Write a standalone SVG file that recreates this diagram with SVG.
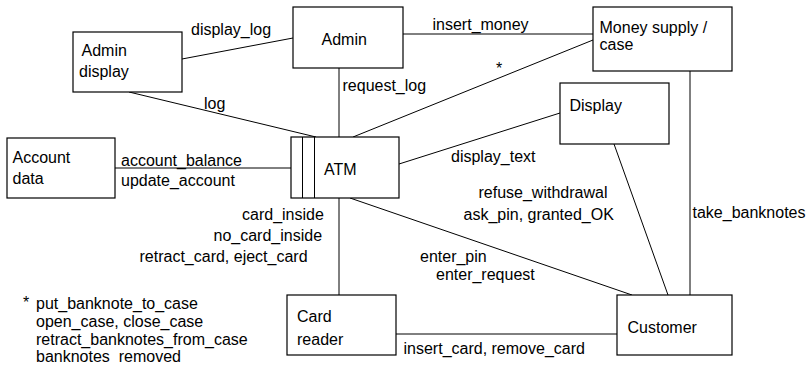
<svg xmlns="http://www.w3.org/2000/svg" width="809" height="366" viewBox="0 0 809 366">
  <style>
    .box { fill: #fff; stroke: #000; stroke-width: 1.2; }
    .wire { stroke: #000; stroke-width: 1; fill: none; }
    text { font-family: "Liberation Sans", Arial, Helvetica, sans-serif; font-size: 16px; fill: #000; }
  </style>
  <rect width="809" height="366" fill="#fff"/>

  <!-- connectors -->
  <g id="connectors">
    <line class="wire" x1="182" y1="59" x2="293" y2="38"/>
    <line class="wire" x1="129" y1="92" x2="316" y2="137"/>
    <line class="wire" x1="339" y1="68" x2="339" y2="137"/>
    <line class="wire" x1="403" y1="34" x2="593" y2="34"/>
    <line class="wire" x1="353" y1="137" x2="593" y2="40"/>
    <line class="wire" x1="399" y1="164" x2="560" y2="113"/>
    <line class="wire" x1="115" y1="168" x2="291" y2="168"/>
    <line class="wire" x1="339" y1="198" x2="339" y2="295"/>
    <line class="wire" x1="350" y1="198" x2="632" y2="295"/>
    <line class="wire" x1="614" y1="144" x2="668" y2="295"/>
    <line class="wire" x1="690" y1="71" x2="690" y2="295"/>
    <line class="wire" x1="396" y1="334" x2="617" y2="334"/>

    <!-- connector labels -->
    <text x="191" y="35">display_log</text>
    <text x="204" y="108.5">log</text>
    <text x="121" y="165.5">account_balance</text>
    <text x="121" y="185.5">update_account</text>
    <text x="432.5" y="29.5">insert_money</text>
    <text x="342.5" y="90.5">request_log</text>
    <text x="496" y="73.5">*</text>
    <text x="451" y="162">display_text</text>
    <text x="478.5" y="197.5">refuse_withdrawal</text>
    <text x="463.5" y="220">ask_pin, granted_OK</text>
    <text x="692.5" y="217.5">take_banknotes</text>
    <text x="242" y="219.5">card_inside</text>
    <text x="213.5" y="240.5">no_card_inside</text>
    <text x="139.5" y="261.5">retract_card, eject_card</text>
    <text x="420" y="261.5">enter_pin</text>
    <text x="436" y="280">enter_request</text>
    <text x="403.5" y="353.5">insert_card, remove_card</text>
  </g>

  <!-- nodes -->
  <g id="admin-display">
    <rect class="box" x="73" y="32" width="109" height="60"/>
    <text x="81.5" y="55.5">Admin</text>
    <text x="79" y="77">display</text>
  </g>
  <g id="admin">
    <rect class="box" x="293" y="7" width="110" height="61"/>
    <text x="321.5" y="44.5">Admin</text>
  </g>
  <g id="money-supply">
    <rect class="box" x="593" y="7" width="139" height="64"/>
    <text x="599.5" y="32.5">Money supply /</text>
    <text x="599.5" y="49.5">case</text>
  </g>
  <g id="display">
    <rect class="box" x="560" y="83" width="109" height="61"/>
    <text x="569.5" y="111">Display</text>
  </g>
  <g id="account-data">
    <rect class="box" x="7" y="138" width="108" height="60"/>
    <text x="12.5" y="163">Account</text>
    <text x="12.5" y="184">data</text>
  </g>
  <g id="atm">
    <rect class="box" x="291" y="137" width="108" height="61"/>
    <line class="wire" x1="302.5" y1="137" x2="302.5" y2="198"/>
    <line class="wire" x1="314.5" y1="137" x2="314.5" y2="198"/>
    <text x="324" y="175">ATM</text>
  </g>
  <g id="card-reader">
    <rect class="box" x="287" y="295" width="109" height="60"/>
    <text x="297" y="321.5">Card</text>
    <text x="297" y="344.5">reader</text>
  </g>
  <g id="customer">
    <rect class="box" x="617" y="295" width="115" height="60"/>
    <text x="627.5" y="332.5">Customer</text>
  </g>

  <!-- footnote for the * connector -->
  <g id="footnote">
    <text x="23" y="308">*</text>
    <text x="36" y="309">put_banknote_to_case</text>
    <text x="36" y="327">open_case, close_case</text>
    <text x="36" y="345">retract_banknotes_from_case</text>
    <text x="36" y="362" xml:space="preserve">banknotes  removed</text>
  </g>
</svg>
